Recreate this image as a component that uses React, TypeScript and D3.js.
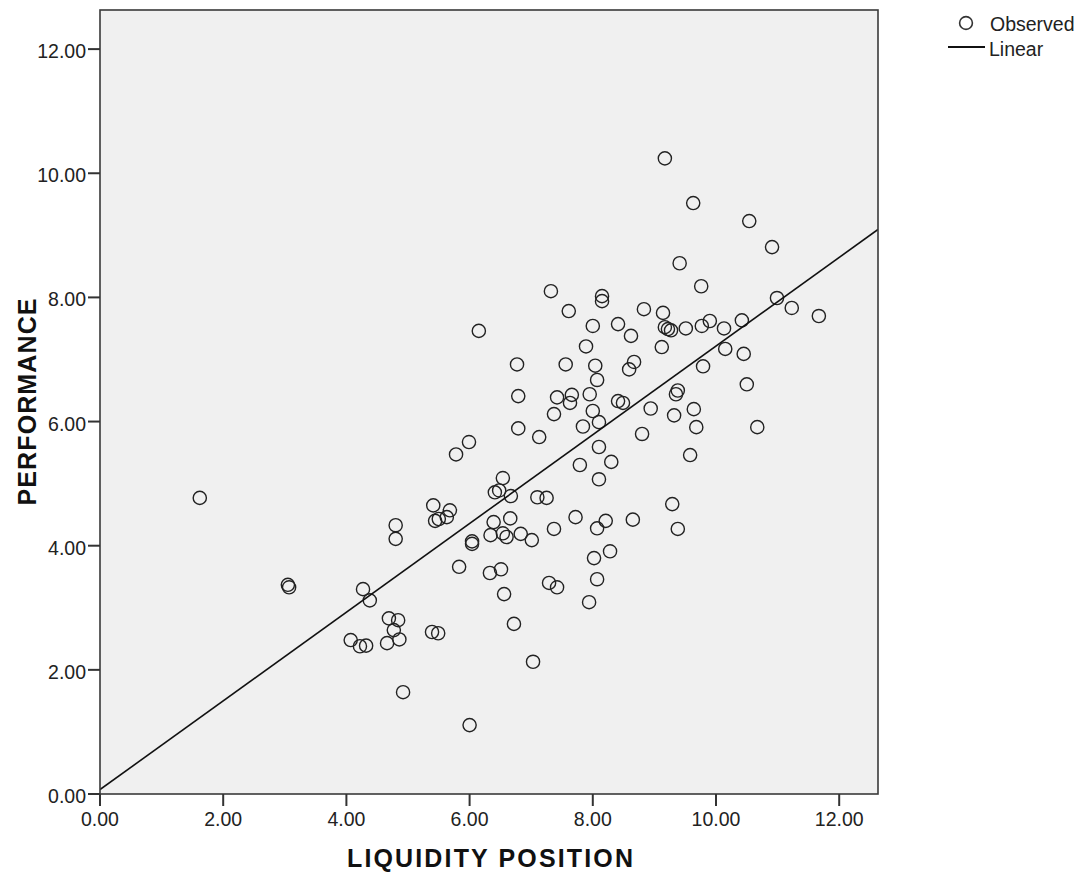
import React from "react";
import { scaleLinear, mean, sum, line } from "d3";

// Scatter of performance vs liquidity position, with a linear fit line
const liquidity = [
  1.62, 3.05, 3.07, 4.07, 4.22, 4.32, 4.27, 4.38, 4.66, 4.69, 4.77, 4.84, 4.86, 4.8, 4.8, 4.92,
  5.39, 5.49, 5.41, 5.44, 5.5, 5.63, 5.68, 5.78, 5.83, 5.99, 6.04, 6.04, 6.0, 6.15,
  6.33, 6.39, 6.34, 6.41, 6.48, 6.54, 6.51, 6.56, 6.54, 6.6, 6.66, 6.67, 6.72, 6.77, 6.79, 6.79,
  6.83, 7.01, 7.03, 7.13, 7.1, 7.25, 7.29, 7.32, 7.37, 7.37, 7.42, 7.42, 7.56, 7.61,
  7.63, 7.66, 7.72, 7.79, 7.84, 7.89, 7.94, 7.95, 8.0, 8.0, 8.04, 8.02, 8.07, 8.07,
  8.07, 8.1, 8.1, 8.1, 8.15, 8.15, 8.21, 8.28, 8.3, 8.41, 8.41, 8.49, 8.59, 8.62,
  8.65, 8.67, 8.8, 8.83, 8.94, 9.12, 9.14, 9.17, 9.17, 9.22, 9.27, 9.29, 9.32, 9.35,
  9.38, 9.38, 9.41, 9.51, 9.58, 9.63, 9.64, 9.68, 9.76, 9.77, 9.79, 9.9, 10.13, 10.15,
  10.42, 10.45, 10.5, 10.54, 10.67, 10.91, 10.99, 11.23, 11.67,
];
const performance = [
  4.77, 3.37, 3.33, 2.48, 2.38, 2.39, 3.3, 3.12, 2.43, 2.83, 2.64, 2.8, 2.49, 4.11, 4.33, 1.64,
  2.61, 2.59, 4.65, 4.4, 4.43, 4.46, 4.57, 5.47, 3.66, 5.67, 4.07, 4.03, 1.11, 7.46,
  3.56, 4.38, 4.17, 4.86, 4.89, 5.09, 3.62, 3.22, 4.2, 4.14, 4.44, 4.8, 2.74, 6.92, 6.41, 5.89,
  4.19, 4.09, 2.13, 5.75, 4.78, 4.77, 3.4, 8.1, 6.12, 4.27, 6.39, 3.33, 6.92, 7.78,
  6.3, 6.43, 4.46, 5.3, 5.92, 7.21, 3.09, 6.44, 7.54, 6.17, 6.9, 3.8, 6.67, 3.46,
  4.28, 5.07, 5.59, 5.99, 8.02, 7.94, 4.4, 3.91, 5.35, 6.33, 7.57, 6.3, 6.84, 7.38,
  4.42, 6.96, 5.8, 7.81, 6.21, 7.2, 7.75, 10.24, 7.52, 7.49, 7.47, 4.67, 6.1, 6.44,
  6.5, 4.27, 8.55, 7.5, 5.46, 9.52, 6.2, 5.91, 8.18, 7.54, 6.89, 7.62, 7.5, 7.17,
  7.63, 7.09, 6.6, 9.23, 5.91, 8.81, 7.99, 7.83, 7.7,
];
const xTicks = [0, 2, 4, 6, 8, 10, 12];
const yTicks = [0, 2, 4, 6, 8, 10, 12];
const axisMax = 12.63;

const font = "'Liberation Sans', Arial, sans-serif";

export default function App() {
  const width = 1089;
  const height = 876;
  const plot = { left: 100, right: 878, top: 10, bottom: 794 };

  const x = scaleLinear().domain([0, axisMax]).range([plot.left, plot.right]);
  const y = scaleLinear().domain([0, axisMax]).range([plot.bottom, plot.top]);

  const points = liquidity.map((lx, i) => ({ lx, py: performance[i] }));

  // least squares fit
  const mx = mean(liquidity) as number;
  const my = mean(performance) as number;
  const slope =
    sum(points, (d) => (d.lx - mx) * (d.py - my)) / sum(points, (d) => (d.lx - mx) ** 2);
  const intercept = my - slope * mx;
  const fit = [0, axisMax].map((v) => [v, intercept + slope * v]);
  const fitPath = line<number[]>()
    .x((d) => x(d[0]))
    .y((d) => y(d[1]))(fit);

  const fmt = (v: number) => v.toFixed(2);

  return (
    <div style={{ position: "absolute", left: 0, top: 0 }}>
      <svg width={width} height={height} style={{ display: "block", background: "#fff" }}>
        <defs>
          <clipPath id="plotclip">
            <rect x={plot.left} y={plot.top} width={plot.right - plot.left} height={plot.bottom - plot.top} />
          </clipPath>
        </defs>
        <rect
          x={plot.left}
          y={plot.top}
          width={plot.right - plot.left}
          height={plot.bottom - plot.top}
          fill="#f0f0f0"
        />

        <g clipPath="url(#plotclip)">
          {points.map((d, i) => (
            <circle
              key={i}
              cx={x(d.lx)}
              cy={y(d.py)}
              r={6.6}
              fill="none"
              stroke="#222"
              strokeWidth={1.4}
            />
          ))}
          <path d={fitPath || ""} fill="none" stroke="#111" strokeWidth={1.6} />
        </g>

        <rect
          x={plot.left}
          y={plot.top}
          width={plot.right - plot.left}
          height={plot.bottom - plot.top}
          fill="none"
          stroke="#3a3a3a"
          strokeWidth={1.6}
        />

        {/* y axis */}
        <g fontFamily={font} fontSize={19.5} fill="#222">
          {yTicks.map((t) => (
            <g key={"y" + t}>
              <line x1={plot.left - 12} x2={plot.left} y1={y(t)} y2={y(t)} stroke="#333" strokeWidth={2} />
              <text x={plot.left - 14} y={y(t) + 2} textAnchor="end" dominantBaseline="central">
                {fmt(t)}
              </text>
            </g>
          ))}
        </g>

        {/* x axis */}
        <g fontFamily={font} fontSize={19.5} fill="#222">
          {xTicks.map((t) => (
            <g key={"x" + t}>
              <line x1={x(t)} x2={x(t)} y1={plot.bottom} y2={plot.bottom + 12} stroke="#333" strokeWidth={2} />
              <text x={x(t)} y={plot.bottom + 25} textAnchor="middle" dominantBaseline="central">
                {fmt(t)}
              </text>
            </g>
          ))}
        </g>

        <text
          x={(plot.left + plot.right) / 2 + 1}
          y={858}
          textAnchor="middle"
          dominantBaseline="central"
          fontFamily={font}
          fontSize={25}
          fontWeight="bold"
          fill="#111"
          textLength={286}
          lengthAdjust="spacing"
        >
          LIQUIDITY POSITION
        </text>
        <text
          transform={`translate(27, ${(plot.top + plot.bottom) / 2}) rotate(-90)`}
          textAnchor="middle"
          dominantBaseline="central"
          fontFamily={font}
          fontSize={25}
          fontWeight="bold"
          fill="#111"
          textLength={207}
          lengthAdjust="spacing"
        >
          PERFORMANCE
        </text>

        {/* legend */}
        <g fontFamily={font} fontSize={19.5} fill="#222">
          <circle cx={966} cy={23} r={6.4} fill="none" stroke="#333" strokeWidth={1.6} />
          <text x={990} y={24} dominantBaseline="central">Observed</text>
          <line x1={948} x2={985} y1={47} y2={47} stroke="#111" strokeWidth={1.8} />
          <text x={989} y={49} dominantBaseline="central">Linear</text>
        </g>
      </svg>
    </div>
  );
}
